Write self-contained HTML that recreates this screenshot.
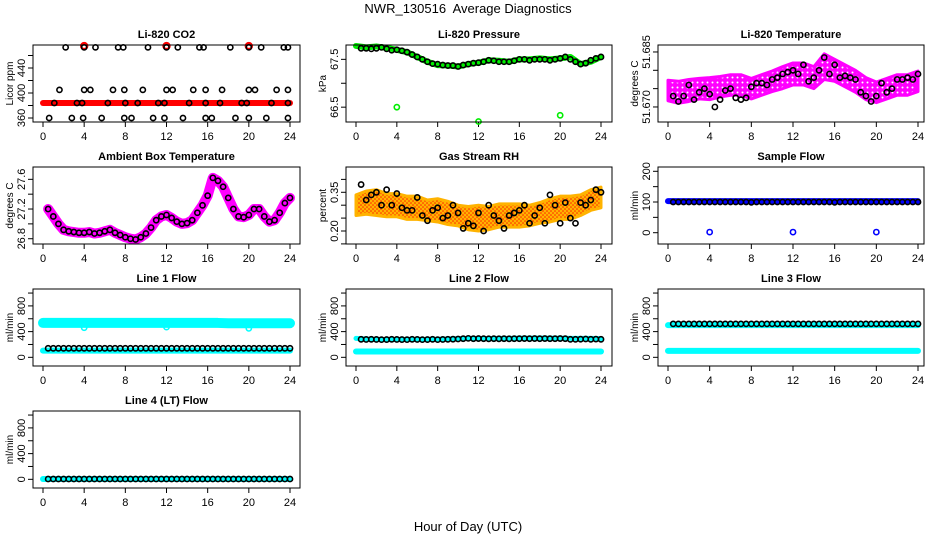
<!DOCTYPE html>
<html><head><meta charset="utf-8"><style>
html,body{margin:0;padding:0;background:#fff}
svg{display:block;font-family:"Liberation Sans",Arial,sans-serif}
</style></head><body>
<svg id="chart" width="936" height="540" viewBox="0 0 936 540">
<defs>
<pattern id="magPat" width="5" height="5" patternUnits="userSpaceOnUse"><rect width="5" height="5" fill="#ff00ff"/><circle cx="2.5" cy="2.5" r="1" fill="#ffffff"/></pattern>
<pattern id="orgPat" width="4" height="4" patternUnits="userSpaceOnUse"><rect width="4" height="4" fill="#ffb300"/><circle cx="1" cy="1" r="0.8" fill="#ff2000"/><circle cx="3" cy="3" r="0.8" fill="#ff2000"/></pattern>
</defs>
<text x="468" y="13" text-anchor="middle" font-size="13" style="white-space:pre">NWR_130516  Average Diagnostics</text>
<text x="468" y="531" text-anchor="middle" font-size="13">Hour of Day (UTC)</text>
</svg>
<script>
const hh = [0.5,1,1.5,2,2.5,3,3.5,4,4.5,5,5.5,6,6.5,7,7.5,8,8.5,9,9.5,10,10.5,11,11.5,12,12.5,13,13.5,14,14.5,15,15.5,16,16.5,17,17.5,18,18.5,19,19.5,20,20.5,21,21.5,22,22.5,23,23.5,24];
const hrs = [0,1,2,3,4,5,6,7,8,9,10,11,12,13,14,15,16,17,18,19,20,21,22,23,24];
const xTicks = [0,4,8,12,16,20,24];

const co2X = [2.2,4,5.1,7.3,7.8,10.2,12,13.1,15.2,15.6,18.2,20,21.2,23.4,23.8, 1.6,4,4.6,6.8,7.9,9.7,12,12.6,14.6,15.8,17.4,20,20.6,22.7,23.8, 1.1,3.3,3.8,6.3,8,9.2,11.2,11.8,14.2,15.8,17.2,19.3,19.8,22.2,23.8, 0.6,2.8,3.9,5.7,7.9,8.6,10.7,11.8,13.6,15.8,16.4,18.7,20,21.7,23.8];
const co2Y = [473,473,473,473,473,473,473,473,473,473,473,473,473,473,473, 405,405,405,405,405,405,405,405,405,405,405,405,405,405,405, 384,384,384,384,384,384,384,384,384,384,384,384,384,384,384, 360,360,360,360,360,360,360,360,360,360,360,360,360,360,360];
const co2RedLine = [384,384,384,384,384,384,384,384,384,384,384,384,384,384,384,384,384,384,384,384,384,384,384,384,384];
const co2RedOutX = [4,12,20];
const co2RedOutY = [475,475,475];

const presBlack = [67.73,67.73,67.72,67.73,67.75,67.72,67.69,67.7,67.68,67.65,67.6,67.55,67.5,67.45,67.41,67.4,67.38,67.37,67.37,67.35,67.38,67.4,67.42,67.43,67.45,67.48,67.47,67.45,67.45,67.45,67.47,67.5,67.5,67.48,67.5,67.5,67.5,67.48,67.5,67.52,67.55,67.5,67.45,67.4,67.42,67.48,67.52,67.55];
const presGreen = [67.78,67.75,67.77,67.74,67.7,67.65,67.55,67.45,67.38,67.37,67.35,67.4,67.43,67.48,67.47,67.45,67.5,67.5,67.52,67.5,67.52,67.55,67.4,67.45,67.55];
const presOutX = [4,12,20];
const presOutY = [66.5,66.2,66.33];

const tempBlack = [51.673,51.6715,51.673,51.676,51.672,51.674,51.675,51.6735,51.670,51.672,51.6745,51.675,51.6725,51.672,51.6725,51.6755,51.6765,51.6765,51.676,51.6775,51.678,51.679,51.6795,51.680,51.679,51.6815,51.677,51.678,51.680,51.6835,51.679,51.6815,51.678,51.6785,51.678,51.6775,51.674,51.673,51.6715,51.673,51.6765,51.674,51.675,51.6775,51.6775,51.678,51.6775,51.679];
const tempBandMid = [51.6745,51.674,51.6745,51.675,51.675,51.6755,51.676,51.676,51.675,51.676,51.677,51.678,51.679,51.679,51.678,51.681,51.680,51.6785,51.677,51.675,51.674,51.675,51.676,51.676,51.677];
const tempBandHalf = [0.0028,0.003,0.003,0.0028,0.003,0.0028,0.0028,0.0028,0.0028,0.0028,0.0028,0.003,0.003,0.003,0.003,0.0035,0.003,0.003,0.003,0.003,0.0028,0.0028,0.0028,0.0028,0.0028];

const ambVals = [27.2,27.1,27.0,26.92,26.9,26.89,26.88,26.88,26.89,26.87,26.88,26.9,26.92,26.88,26.85,26.82,26.8,26.79,26.82,26.87,26.95,27.05,27.1,27.12,27.08,27.03,27.0,27.01,27.05,27.15,27.25,27.38,27.62,27.58,27.5,27.35,27.2,27.1,27.09,27.12,27.2,27.2,27.1,27.03,27.05,27.15,27.28,27.35];

const rhBlack = [0.38,0.32,0.34,0.35,0.30,0.36,0.30,0.345,0.29,0.28,0.28,0.33,0.26,0.24,0.28,0.29,0.25,0.26,0.30,0.27,0.21,0.23,0.22,0.27,0.20,0.30,0.26,0.24,0.21,0.26,0.27,0.28,0.30,0.23,0.26,0.29,0.23,0.34,0.30,0.23,0.31,0.25,0.23,0.31,0.30,0.32,0.36,0.35];
const rhBandMid = [0.30,0.31,0.31,0.30,0.30,0.29,0.29,0.28,0.28,0.27,0.26,0.25,0.25,0.25,0.26,0.26,0.26,0.26,0.27,0.28,0.29,0.29,0.30,0.32,0.33];
const rhBandHalf = [0.04,0.045,0.05,0.045,0.045,0.045,0.045,0.04,0.045,0.045,0.04,0.045,0.05,0.045,0.045,0.045,0.045,0.04,0.04,0.045,0.045,0.045,0.04,0.04,0.04];

const sampBlack = [100,100,100,100,100,100,100,100,100,100,100,100,100,100,100,99,100,100,100,100,100,100,100,100,100,100,100,100,100,100,100,99,100,100,100,100,100,100,100,100,100,100,100,100,100,100,100,100];
const sampBlue = [103,103,103,103,103,103,103,103,103,103,103,103,103,103,103,103,103,103,103,103,103,103,103,103,103];
const sampOutX = [4,12,20];
const sampOutY = [2,2,2];

const l1Black = [140,140,140,140,140,140,140,140,140,140,140,140,140,140,140,140,140,140,140,140,140,140,140,140,140,140,140,140,140,140,140,140,140,140,140,140,140,140,140,140,140,140,140,140,140,140,140,140];
const l1CyanHi = [535,535,535,535,535,535,535,535,535,535,535,535,535,535,535,535,535,535,530,530,530,530,530,530,530];
const l1CyanLo = [105,105,105,105,105,105,105,105,105,105,105,105,105,105,105,105,105,105,105,105,105,105,105,105,105];
const l2Black = [280,278,280,278,275,276,280,278,276,275,280,278,275,276,280,275,278,280,282,285,290,295,290,292,290,288,290,288,290,288,290,290,292,290,292,290,292,290,290,292,290,280,280,282,285,280,283,280];
const l2CyanHi = [295,285,280,275,278,280,278,280,282,285,290,295,292,292,294,295,298,298,300,298,298,295,295,295,290];
const l2CyanLo = [90,90,90,90,90,90,90,90,90,90,90,90,90,90,90,90,90,90,90,90,90,90,90,90,90];
const l3Black = [520,520,520,520,520,520,520,520,520,520,520,520,520,520,520,520,520,520,520,520,520,520,520,520,520,520,520,520,520,520,520,520,520,520,520,520,520,520,520,520,520,520,520,520,520,520,520,520];
const l3CyanHi = [500,500,500,500,500,500,500,500,500,500,500,500,500,500,500,500,500,500,500,500,500,500,500,500,500];
const l3CyanLo = [100,100,100,100,100,100,100,100,100,100,100,100,100,100,100,100,100,100,100,100,100,100,100,100,100];
const l4Black = [5,5,5,5,5,5,5,5,5,5,5,5,5,5,5,5,5,5,5,5,5,5,5,5,5,5,5,5,5,5,5,5,5,5,5,5,5,5,5,5,5,5,5,5,5,5,5,5];
const l4Cyan = [5,5,5,5,5,5,5,5,5,5,5,5,5,5,5,5,5,5,5,5,5,5,5,5,5];
const flowOutX = [4,12,20];
const flowOutY1 = [460,470,450];

const NS = 'http://www.w3.org/2000/svg';
const svg = document.getElementById('chart');
function mk(tag, attrs, parent) {
  const e = document.createElementNS(NS, tag);
  for (const k in attrs) e.setAttribute(k, attrs[k]);
  (parent || svg).appendChild(e);
  return e;
}
const cols = [{l:33,r:300,x0:43,x1:290},{l:346,r:612,x0:356,x1:601},{l:658,r:924,x0:668,x1:918}];
const rows = [{t:45,b:122},{t:167,b:244},{t:289,b:366},{t:411,b:488}];

function panel(name, title, ylab, col, row, ymin, ymax, ticks, labels) {
  const c = cols[col], r = rows[row];
  const g = mk('g', {});
  
  
  const sx = v => c.x0 + (v / 24) * (c.x1 - c.x0);
  const sy = v => r.b - (v - ymin) / (ymax - ymin) * (r.b - r.t);
  const t = mk('text', {x:(c.l + c.r) / 2, y:r.t - 7, 'text-anchor':'middle', 'font-size':11, 'font-weight':'bold'}, g);
  t.textContent = title;
  
  
  const yl = mk('text', {x:0, y:0, 'text-anchor':'middle', 'font-size':10, transform:`translate(${c.l - 20},${(r.t + r.b) / 2}) rotate(-90)`}, g);
  yl.textContent = ylab;
  
  
  xTicks.forEach(v => {
    const x = sx(v);
    mk('line', {x1:x, x2:x, y1:r.b, y2:r.b + 5, stroke:'#000'}, g);
    const lt = mk('text', {x:x, y:r.b + 18, 'text-anchor':'middle', 'font-size':11}, g);
    lt.textContent = v;
    
    
  });
  ticks.forEach((v, i) => {
    const y = sy(v);
    mk('line', {x1:c.l, x2:c.l - 5, y1:y, y2:y, stroke:'#000'}, g);
    if (labels[i] !== '') {
      const lt = mk('text', {x:0, y:0, 'text-anchor':'middle', 'font-size':11, transform:`translate(${c.l - 8},${y}) rotate(-90)`}, g);
      lt.textContent = labels[i];
      
      
    }
  });
  const inner = mk('g', {}, g);
  mk('rect', {x:c.l, y:r.t, width:c.r - c.l, height:r.b - r.t, fill:'none', stroke:'#000', 'stroke-width':1}, g);
  return {g:inner, sx, sy};
}
function pts(p, xs, ys, color, nm, rad, sw) {
  xs.forEach((x, i) => {
    const e = mk('circle', {cx:p.sx(x), cy:p.sy(ys[i]), r:rad || 2.6, fill:'none', stroke:color, 'stroke-width':sw || 1.6}, p.g);
    
    
  });
}
function line(p, xs, ys, color, w, nm) {
  const e = mk('polyline', {points:xs.map((x, i) => p.sx(x) + ',' + p.sy(ys[i])).join(' '), fill:'none', stroke:color, 'stroke-width':w, 'stroke-linejoin':'round', 'stroke-linecap':'round'}, p.g);
  
  
}
function band(p, xs, mid, half, fill, nm) {
  const up = xs.map((x, i) => p.sx(x) + ',' + p.sy(mid[i] + half[i]));
  const dn = xs.map((x, i) => p.sx(x) + ',' + p.sy(mid[i] - half[i])).reverse();
  const e = mk('polygon', {points:up.concat(dn).join(' '), fill:fill, stroke:fill === 'url(#orgPat)' ? '#ffb300' : '#ff00ff', 'stroke-width':3, 'stroke-linejoin':'round'}, p.g);
  
  
}

let p = panel('co2', 'Li-820 CO2', 'Licor ppm', 0, 0, 353.6, 476.8, [360,380,400,420,440,460], ['360','','400','','440','']);
line(p, hrs, co2RedLine, '#ff0000', 6, 'co2-red-series');
pts(p, co2RedOutX, co2RedOutY, '#ff0000', 'co2-red-outlier', 3, 2.4);
pts(p, co2X, co2Y, '#000', 'co2-point');

p = panel('pressure', 'Li-820 Pressure', 'kPa', 1, 0, 66.19, 67.80, [66.5,67.0,67.5], ['66.5','','67.5']);
line(p, hrs, presGreen, '#00ee00', 6, 'pressure-green-series');
pts(p, presOutX, presOutY, '#00ee00', 'pressure-outlier');
pts(p, hh, presBlack, '#000', 'pressure-point');

p = panel('li820-temp', 'Li-820 Temperature', 'degrees C', 2, 0, 51.6659, 51.6869, [51.670,51.675,51.680,51.685], ['51.670','','','51.685']);
band(p, hrs, tempBandMid, tempBandHalf, 'url(#magPat)', 'li820-temp-magenta-band');
pts(p, hh, tempBlack, '#000', 'li820-temp-point');

p = panel('ambient', 'Ambient Box Temperature', 'degrees C', 0, 1, 26.729, 27.766, [26.8,27.0,27.2,27.4,27.6], ['26.8','','27.2','','27.6']);
line(p, hh, ambVals, '#ff00ff', 10, 'ambient-magenta-series');
pts(p, hh, ambVals, '#000', 'ambient-point');

p = panel('rh', 'Gas Stream RH', 'percent', 1, 1, 0.1496, 0.448, [0.15,0.20,0.25,0.30,0.35,0.40], ['','0.20','','','0.35','']);
band(p, hrs, rhBandMid, rhBandHalf, 'url(#orgPat)', 'rh-orange-band');
pts(p, hh, rhBlack, '#000', 'rh-point');

p = panel('sample-flow', 'Sample Flow', 'ml/min', 2, 1, -36.8, 214, [0,50,100,150,200], ['0','','100','','200']);
line(p, hrs, sampBlue, '#0000ff', 6, 'sample-flow-blue-series');
pts(p, sampOutX, sampOutY, '#0000ff', 'sample-flow-outlier');
pts(p, hh, sampBlack, '#000', 'sample-flow-point');

const fT = [0,200,400,600,800,1000], fL = ['0','','400','','800',''];
p = panel('line1-flow', 'Line 1 Flow', 'ml/min', 0, 2, -135, 1063, fT, fL);
line(p, hrs, l1CyanHi, '#00ffff', 10, 'line1-cyan-high');
line(p, hrs, l1CyanLo, '#00ffff', 6, 'line1-cyan-low');
pts(p, flowOutX, flowOutY1, '#00ffff', 'line1-outlier');
pts(p, hh, l1Black, '#000', 'line1-point');

p = panel('line2-flow', 'Line 2 Flow', 'ml/min', 1, 2, -135, 1063, fT, fL);
line(p, hrs, l2CyanHi, '#00ffff', 5, 'line2-cyan-high');
line(p, hrs, l2CyanLo, '#00ffff', 6, 'line2-cyan-low');
pts(p, hh, l2Black, '#000', 'line2-point');

p = panel('line3-flow', 'Line 3 Flow', 'ml/min', 2, 2, -135, 1063, fT, fL);
line(p, hrs, l3CyanHi, '#00ffff', 6, 'line3-cyan-high');
line(p, hrs, l3CyanLo, '#00ffff', 6, 'line3-cyan-low');
pts(p, hh, l3Black, '#000', 'line3-point');

p = panel('line4-flow', 'Line 4 (LT) Flow', 'ml/min', 0, 3, -135, 1063, fT, fL);
line(p, hrs, l4Cyan, '#00ffff', 6, 'line4-cyan');
pts(p, hh, l4Black, '#000', 'line4-point');
</script>
</body></html>
